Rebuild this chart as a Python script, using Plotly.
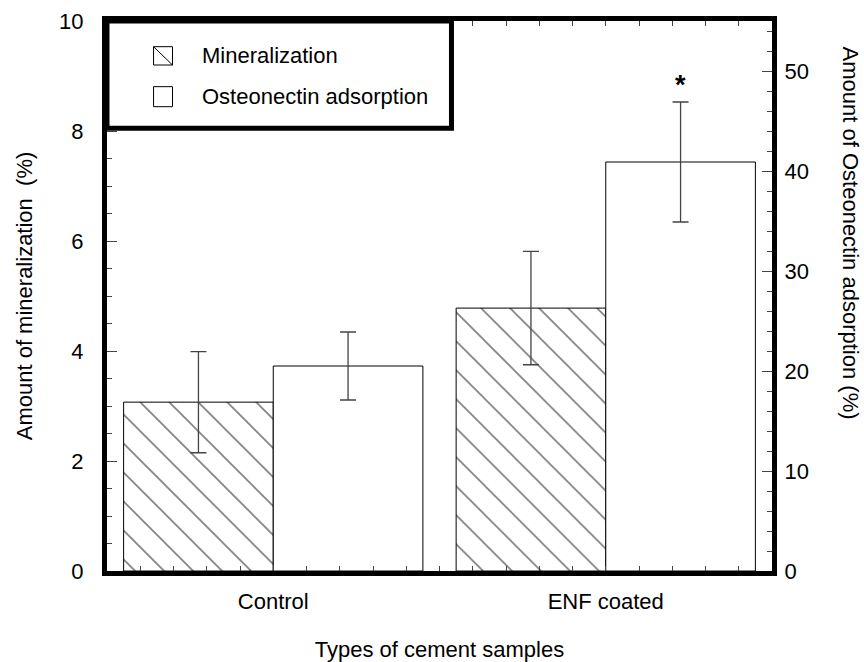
import plotly.graph_objects as go

# ---- data ----
categories = ["Control", "ENF coated"]
cat_pos = [0.5, 1.5]
mineralization = [3.07, 4.78]
mineralization_err = [0.92, 1.03]
osteonectin = [20.5, 40.9]
osteonectin_err = [3.4, 6.0]
left_ticks = [0, 2, 4, 6, 8, 10]
right_ticks = [0, 10, 20, 30, 40, 50]

FONT = "Liberation Sans, Arial, sans-serif"
FS = 22
TICKC = "#444"

fig = go.Figure()
fig.add_trace(go.Bar(
    x=cat_pos, y=mineralization, width=0.45, offset=-0.45,
    name="Mineralization", showlegend=False,
    marker=dict(color="white", line=dict(color="black", width=1),
                pattern=dict(shape="\\", fgcolor="black", bgcolor="white", size=20.5, solidity=0.08)),
    error_y=dict(type="data", array=mineralization_err, color=TICKC, thickness=1.3, width=8),
    yaxis="y", xaxis="x",
))
fig.add_trace(go.Bar(
    x=cat_pos, y=osteonectin, width=0.45, offset=0.0,
    name="Osteonectin adsorption", showlegend=False,
    marker=dict(color="white", line=dict(color="black", width=1)),
    error_y=dict(type="data", array=osteonectin_err, color=TICKC, thickness=1.3, width=8),
    yaxis="y2", xaxis="x",
))

fig.update_layout(
    width=864, height=662,
    margin=dict(l=107, r=92, t=21, b=91, autoexpand=False),
    paper_bgcolor="white", plot_bgcolor="white",
    font=dict(family=FONT, size=FS, color="black"),
    barmode="overlay",
    showlegend=False,
    xaxis=dict(
        range=[0, 2], tickvals=cat_pos, ticktext=categories, automargin=False,
        ticks="inside", ticklen=5, tickcolor=TICKC, tickwidth=1,
        minor=dict(dtick=0.1, tick0=0, ticks="inside", ticklen=5, tickcolor=TICKC, tickwidth=1),
        showline=True, linewidth=5, linecolor="black", mirror="allticks",
        showgrid=False, zeroline=False, ticklabelstandoff=7,
        title=dict(text="Types of cement samples", standoff=31, font=dict(size=FS)),
        tickfont=dict(size=FS),
    ),
    xaxis2=dict(
        range=[0, 2], overlaying="x", anchor="y", tickvals=[1], automargin=False,
        ticks="inside", ticklen=10, tickcolor=TICKC, tickwidth=1,
        showticklabels=False, showline=False, mirror="allticks",
        showgrid=False, zeroline=False,
    ),
    yaxis=dict(
        range=[0, 10], tickvals=left_ticks, automargin=False,
        ticks="inside", ticklen=10, tickcolor=TICKC, tickwidth=1,
        minor=dict(dtick=0.5, tick0=0, ticks="inside", ticklen=5, tickcolor=TICKC, tickwidth=1),
        showline=True, linewidth=5, linecolor="black", mirror=True,
        showgrid=False, zeroline=False, ticklabelstandoff=14,
        title=dict(text="Amount of mineralization  (%)", standoff=22, font=dict(size=FS)),
        tickfont=dict(size=FS),
    ),
    yaxis2=dict(
        range=[0, 55], tickvals=right_ticks, overlaying="y", side="right", anchor="x",
        automargin=False,
        ticks="inside", ticklen=10, tickcolor=TICKC, tickwidth=1,
        minor=dict(dtick=2, tick0=0, ticks="inside", ticklen=5, tickcolor=TICKC, tickwidth=1),
        showline=True, linewidth=5, linecolor="black",
        showgrid=False, zeroline=False, ticklabelstandoff=3,
        tickfont=dict(size=FS),
    ),
)

# right axis title (placed above centre, as in the reference)
fig.add_annotation(
    text="Amount of Osteonectin adsorption (%)", textangle=90,
    xref="paper", yref="paper", x=1.1195, y=0.6145, showarrow=False,
    xanchor="center", yanchor="middle", font=dict(size=FS),
)

# significance marker
fig.add_annotation(
    text="<b>*</b>", xref="x", yref="y2", x=cat_pos[1] + 0.225,
    y=osteonectin[1] + osteonectin_err[1], yanchor="bottom", yshift=0,
    showarrow=False, font=dict(size=27),
)

# ---- manual legend ----
fig.add_shape(type="rect", xref="x domain", yref="y domain",
              x0=0, x1=0.518, y0=0.805, y1=1.0,
              line=dict(color="black", width=5), fillcolor="white", layer="above")
fig.add_shape(type="rect", xref="x domain", yref="y domain",
              x0=0.070, x1=0.0985, y0=0.92, y1=0.9533,
              line=dict(color="black", width=1), fillcolor="white", layer="above")
fig.add_shape(type="line", xref="x domain", yref="y domain",
              x0=0.070, x1=0.0985, y0=0.9533, y1=0.92,
              line=dict(color="black", width=1), layer="above")
fig.add_shape(type="rect", xref="x domain", yref="y domain",
              x0=0.070, x1=0.0985, y0=0.8442, y1=0.8806,
              line=dict(color="black", width=1), fillcolor="white", layer="above")
fig.add_annotation(text="Mineralization", xref="x domain", yref="y domain",
                   x=0.1406, y=0.938, xanchor="left", yanchor="middle",
                   showarrow=False, font=dict(size=FS))
fig.add_annotation(text="Osteonectin adsorption", xref="x domain", yref="y domain",
                   x=0.1406, y=0.862, xanchor="left", yanchor="middle",
                   showarrow=False, font=dict(size=FS))

fig.write_html("out.html")
